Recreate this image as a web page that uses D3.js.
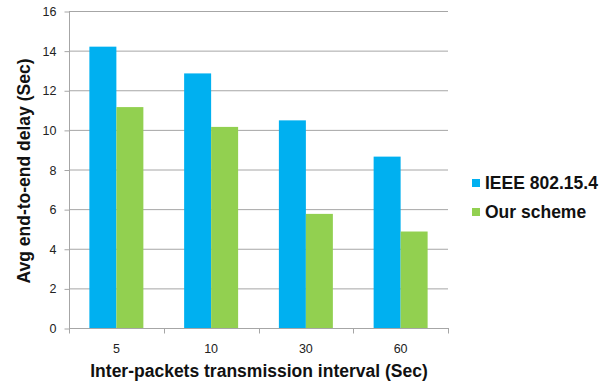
<!DOCTYPE html>
<html>
<head>
<meta charset="utf-8">
<script src="https://cdn.jsdelivr.net/npm/d3@7"></script>
<style>
  html, body { margin: 0; padding: 0; background: #fff; }
  svg { display: block; font-family: "Liberation Sans", Arial, sans-serif; }
</style>
</head>
<body>
<svg id="chart" width="610" height="386"></svg>
<script>
// Average end-to-end delay per inter-packet interval
const categories = ["5", "10", "30", "60"];
const seriesNames = ["IEEE 802.15.4", "Our scheme"];
const ieeeValues = [14.2, 12.85, 10.48, 8.65];
const schemeValues = [11.15, 10.15, 5.76, 4.87];
const yTicks = [0, 2, 4, 6, 8, 10, 12, 14, 16];
const colors = ["#00B0F0", "#92D050"];

const seriesValues = [ieeeValues, schemeValues];

const svg = d3.select("#chart");
const plot = { left: 69, right: 448, top: 11, bottom: 328 };

const x0 = d3.scaleBand()
  .domain(categories)
  .range([plot.left, plot.right])
  .paddingInner(0).paddingOuter(0);

const x1 = d3.scaleBand()
  .domain(seriesNames)
  .range([0, x0.bandwidth()])
  .paddingInner(0).paddingOuter(0.755);

const y = d3.scaleLinear().domain([0, 16]).range([plot.bottom, plot.top]);

// Horizontal gridlines
svg.append("g")
  .selectAll("line")
  .data(yTicks.filter(d => d > 0))
  .join("line")
  .attr("x1", plot.left).attr("x2", plot.right)
  .attr("y1", d => y(d) + 0.5).attr("y2", d => y(d) + 0.5)
  .attr("stroke", "#a6a6a6").attr("stroke-width", 1);

// Bars
const groups = svg.append("g")
  .selectAll("g")
  .data(categories)
  .join("g")
  .attr("transform", d => `translate(${x0(d)},0)`);

groups.selectAll("rect")
  .data((c, i) => seriesNames.map((s, k) => ({ s, k, v: seriesValues[k][i] })))
  .join("rect")
  .attr("x", d => x1(d.s))
  .attr("width", x1.bandwidth())
  .attr("y", d => y(d.v))
  .attr("height", d => y(0) - y(d.v))
  .attr("fill", d => colors[d.k]);

// Y axis
const yAxis = d3.axisLeft(y).tickValues(yTicks).tickSize(5).tickPadding(8);
const gy = svg.append("g")
  .attr("transform", `translate(${plot.left + 0.5},0.5)`)
  .call(yAxis);
gy.select(".domain").attr("stroke", "#a6a6a6").attr("d", `M0,${plot.top}V${plot.bottom}`);
gy.selectAll(".tick line").attr("stroke", "#a6a6a6");
gy.selectAll(".tick text").attr("font-size", 12.5).attr("fill", "#222")
  .attr("font-family", "'Liberation Sans', Arial, sans-serif");

// X axis with ticks at category boundaries
const gx = svg.append("g").attr("transform", `translate(0,${plot.bottom + 0.5})`);
gx.append("line")
  .attr("x1", plot.left).attr("x2", plot.right + 1)
  .attr("stroke", "#a6a6a6");
const boundaries = categories.map(c => x0(c)).concat([x0(categories[categories.length - 1]) + x0.bandwidth()]);
gx.selectAll("line.tk")
  .data(boundaries)
  .join("line")
  .attr("class", "tk")
  .attr("x1", d => Math.round(d) + 0.5).attr("x2", d => Math.round(d) + 0.5)
  .attr("y1", 0).attr("y2", 5)
  .attr("stroke", "#a6a6a6");
gx.selectAll("text")
  .data(categories)
  .join("text")
  .attr("x", d => x0(d) + x0.bandwidth() / 2)
  .attr("y", 24)
  .attr("text-anchor", "middle")
  .attr("font-size", 12.5).attr("fill", "#222")
  .text(d => d);

// Axis titles
svg.append("text")
  .attr("x", 259).attr("y", 377)
  .attr("text-anchor", "middle")
  .attr("font-size", 17.5).attr("font-weight", "bold").attr("fill", "#111")
  .text("Inter-packets transmission interval (Sec)");

svg.append("text")
  .attr("transform", "translate(30,171) rotate(-90)")
  .attr("text-anchor", "middle")
  .attr("font-size", 17.5).attr("font-weight", "bold").attr("fill", "#111")
  .text("Avg end-to-end delay (Sec)");

// Legend
const legend = svg.append("g").attr("transform", "translate(472,183)");
const items = legend.selectAll("g")
  .data(seriesNames)
  .join("g")
  .attr("transform", (d, i) => `translate(0,${i * 29})`);
items.append("rect")
  .attr("x", 0).attr("y", -4).attr("width", 8).attr("height", 8)
  .attr("fill", (d, i) => colors[i]);
items.append("text")
  .attr("x", 13).attr("y", 6)
  .attr("font-size", 17.5).attr("font-weight", "bold").attr("fill", "#111")
  .text(d => d);
</script>
</body>
</html>
